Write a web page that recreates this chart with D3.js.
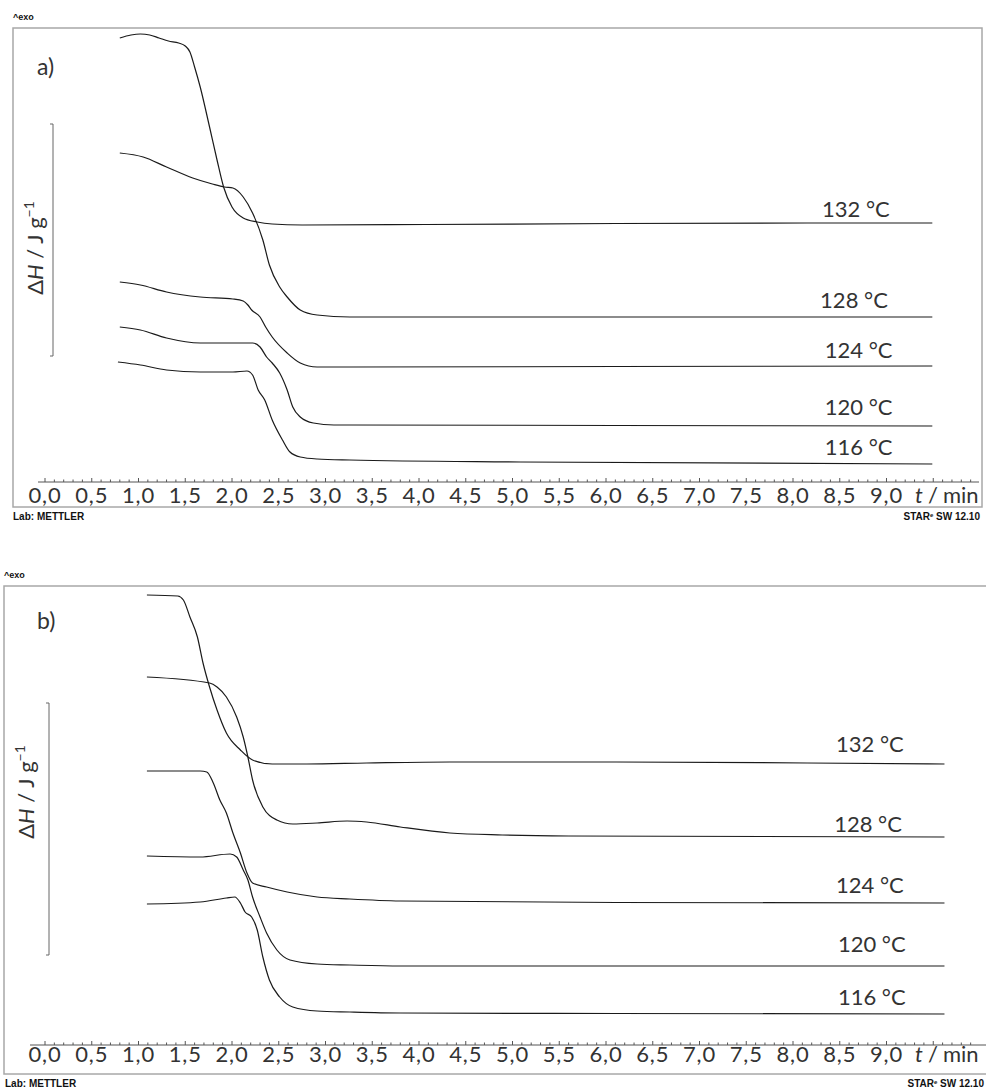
<!DOCTYPE html>
<html><head><meta charset="utf-8">
<script src="https://cdn.jsdelivr.net/npm/d3@7"></script>
<style>body{margin:0;background:#fff;overflow:hidden} svg{display:block}</style>
</head><body><svg id="c" width="986" height="1090"></svg>
<script>
// ---------- DATA ----------
const xTickValues = [0,0.5,1,1.5,2,2.5,3,3.5,4,4.5,5,5.5,6,6.5,7,7.5,8,8.5,9];
const xTickLabels = ["0,0","0,5","1,0","1,5","2,0","2,5","3,0","3,5","4,0","4,5","5,0","5,5","6,0","6,5","7,0","7,5","8,0","8,5","9,0"];
const temperatures = ["132 °C","128 °C","124 °C","120 °C","116 °C"];
const panelNames = ["a)","b)"];

// panel a curves: [t/min, ΔH (arb. units)]
const a132 = [[0.80,44.4],[0.92,44.7],[1.02,44.8],[1.12,44.7],[1.22,44.4],[1.32,44.1],[1.43,43.9],[1.50,43.6],[1.55,43.0],[1.60,41.5],[1.66,39.5],[1.76,35.5],[1.84,32.2],[1.91,29.5],[2.00,27.5],[2.12,26.4],[2.27,26.0],[2.43,25.8],[2.75,25.7],[4.07,25.75],[6.11,25.85],[8.15,25.9],[9.49,25.9]];
const a128 = [[0.80,32.9],[1.05,32.5],[1.30,31.5],[1.58,30.4],[1.79,29.8],[1.92,29.5],[2.01,29.4],[2.12,28.5],[2.22,26.9],[2.33,24.2],[2.40,21.7],[2.51,19.5],[2.59,18.5],[2.73,17.2],[2.91,16.7],[3.26,16.5],[6.11,16.5],[9.49,16.5]];
const a124 = [[0.80,20.0],[1.02,19.7],[1.30,19.0],[1.66,18.5],[2.01,18.3],[2.12,18.1],[2.17,17.7],[2.21,17.2],[2.30,16.5],[2.36,15.5],[2.43,14.5],[2.59,12.9],[2.73,11.9],[2.91,11.5],[3.26,11.5],[6.11,11.55],[9.49,11.6]];
const a120 = [[0.80,15.5],[1.02,15.2],[1.30,14.4],[1.66,13.9],[2.01,13.9],[2.22,13.9],[2.30,13.5],[2.37,12.5],[2.43,11.9],[2.51,10.9],[2.59,9.2],[2.65,7.5],[2.73,6.5],[2.87,5.9],[3.09,5.7],[3.26,5.7],[6.11,5.65],[9.49,5.6]];
const a116 = [[0.78,12.0],[1.02,11.7],[1.30,11.2],[1.66,11.0],[2.01,11.0],[2.16,11.1],[2.22,10.7],[2.28,9.2],[2.35,8.2],[2.43,6.2],[2.54,4.2],[2.62,3.0],[2.73,2.5],[2.91,2.3],[3.26,2.2],[5.09,2.0],[9.49,1.8]];

// panel b curves
const b132 = [[1.09,45.0],[1.42,44.9],[1.48,44.5],[1.55,42.8],[1.63,40.8],[1.69,38.2],[1.76,35.8],[1.84,33.5],[1.94,31.2],[2.09,29.5],[2.22,28.5],[2.43,28.1],[2.80,28.1],[3.44,28.2],[4.33,28.3],[6.11,28.3],[8.15,28.2],[9.62,28.1]];
const b128 = [[1.09,36.8],[1.76,36.2],[1.84,35.8],[1.94,34.8],[2.05,32.8],[2.12,30.8],[2.17,28.8],[2.22,26.5],[2.33,23.8],[2.48,22.5],[2.65,22.1],[2.91,22.2],[3.23,22.4],[3.44,22.3],[3.80,21.8],[4.33,21.2],[4.89,21.0],[5.60,20.9],[9.62,20.8]];
const b124 = [[1.09,27.4],[1.66,27.4],[1.73,27.3],[1.80,26.2],[1.87,24.5],[1.94,23.2],[2.01,21.2],[2.09,19.2],[2.16,17.2],[2.22,16.2],[2.37,15.8],[2.59,15.3],[2.91,14.8],[3.26,14.6],[3.80,14.4],[6.11,14.25],[9.62,14.2]];
const b120 = [[1.09,18.9],[1.66,18.8],[1.98,19.1],[2.05,18.8],[2.12,17.5],[2.17,16.5],[2.22,14.8],[2.30,12.8],[2.37,11.2],[2.48,9.5],[2.62,8.5],[2.91,8.1],[3.26,8.0],[3.80,7.9],[9.62,7.9]];
const b116 = [[1.09,14.1],[1.66,14.3],[1.94,14.7],[2.03,14.8],[2.09,14.2],[2.14,13.3],[2.21,12.8],[2.27,11.5],[2.33,8.8],[2.40,6.5],[2.51,4.8],[2.65,3.8],[2.91,3.4],[3.26,3.3],[3.80,3.2],[6.11,3.15],[9.62,3.1]];

// label anchor positions [t, value]
const labelPosA = [[8.31,26.5],[8.29,17.4],[8.34,12.4],[8.34,6.7],[8.34,2.7]];
const labelPosB = [[8.46,29.3],[8.44,21.3],[8.46,15.2],[8.48,9.3],[8.48,4.0]];

// ---------- DRAW ----------
const svg = d3.select("#c");
const NUM_FONT = "Lato, 'Open Sans', sans-serif";
const SMALL_FONT = "'Liberation Sans', Arial, sans-serif";

const panels = [
  {name: panelNames[0], curves:[a132,a128,a124,a120,a116], labels: labelPosA,
   frame:{x0:13,y0:28,x1:982,y1:507}, axisY:482, axisX0:38, axisX1:979, yTop:28,
   tickBase:503, exoY:20, footY:520, labX:13, starX:980,
   barX:53, bar:[124,356], ylab:{x:43, y:248}, nameY:75},
  {name: panelNames[1], curves:[b132,b128,b124,b120,b116], labels: labelPosB,
   frame:{x0:4,y0:586,x1:996,y1:1074}, axisY:1045, axisX0:30, axisX1:986, yTop:586,
   tickBase:1062, exoY:578, footY:1087, labX:5, starX:984,
   barX:49, bar:[703,955], ylab:{x:34, y:792}, nameY:629}
];

const x = d3.scaleLinear().domain([0, 9]).range([45, 886.5]);

panels.forEach(p => {
  const g = svg.append("g");
  const y = d3.scaleLinear().domain([0, (p.axisY - p.yTop)/10]).range([p.axisY, p.yTop]);

  // frame
  g.append("rect").attr("x", p.frame.x0).attr("y", p.frame.y0)
    .attr("width", p.frame.x1 - p.frame.x0).attr("height", p.frame.y1 - p.frame.y0)
    .attr("fill", "none").attr("stroke", "#a8a8a8").attr("stroke-width", 1.5);

  // ^exo
  g.append("text").attr("x", p.frame.x0).attr("y", p.exoY)
    .attr("font-family", SMALL_FONT).attr("font-weight", "bold").attr("font-size", 9)
    .attr("fill", "#111").text("^exo");

  // footer
  g.append("text").attr("x", p.labX).attr("y", p.footY)
    .attr("font-family", SMALL_FONT).attr("font-weight", "bold").attr("font-size", 10)
    .attr("fill", "#111").text("Lab: METTLER");
  const st = g.append("text").attr("x", p.starX).attr("y", p.footY)
    .attr("text-anchor", "end")
    .attr("font-family", SMALL_FONT).attr("font-weight", "bold").attr("font-size", 10)
    .attr("fill", "#111");
  st.append("tspan").text("STAR");
  st.append("tspan").attr("font-size", 6).attr("dy", -3).text("e");
  st.append("tspan").attr("dy", 3).text(" SW 12.10");

  // x axis line + ticks
  g.append("line").attr("x1", p.axisX0).attr("x2", p.axisX1)
    .attr("y1", p.axisY).attr("y2", p.axisY).attr("stroke", "#555").attr("stroke-width", 1);
  const minor = d3.range(0, 9.95, 0.1).map(v => +v.toFixed(2)).filter(v => x(v) <= p.axisX1);
  g.selectAll(".mt").data(minor).join("line")
    .attr("x1", d => x(d)).attr("x2", d => x(d))
    .attr("y1", p.axisY).attr("y2", d => p.axisY - (Math.abs(d*2 - Math.round(d*2)) < 1e-6 ? 4 : 2.5))
    .attr("stroke", "#555").attr("stroke-width", 1);
  g.selectAll(".tl").data(xTickValues).join("text")
    .attr("x", d => x(d)).attr("y", p.tickBase).attr("text-anchor", "middle")
    .attr("font-family", NUM_FONT).attr("font-size", 22).attr("letter-spacing", 0.8)
    .attr("fill", "#333")
    .text((d,i) => xTickLabels[i]);
  const tl = g.append("text").attr("y", p.tickBase)
    .attr("font-family", NUM_FONT).attr("font-size", 22).attr("fill", "#333");
  tl.append("tspan").attr("x", 915).attr("font-style", "italic").text("t");
  tl.append("tspan").attr("x", 928).text("/");
  tl.append("tspan").attr("x", 943).text("min");

  // panel name
  g.append("text").attr("x", 37).attr("y", p.nameY)
    .attr("font-family", NUM_FONT).attr("font-size", 23).attr("fill", "#333").text(p.name);

  // scale bar
  g.append("path")
    .attr("d", `M${p.barX-3},${p.bar[0]}H${p.barX}V${p.bar[1]}H${p.barX-3}`)
    .attr("fill", "none").attr("stroke", "#666").attr("stroke-width", 1);

  // y label
  const yl = g.append("text")
    .attr("transform", `translate(${p.ylab.x},${p.ylab.y}) rotate(-90)`)
    .attr("text-anchor", "middle")
    .attr("font-family", NUM_FONT).attr("font-size", 22).attr("fill", "#333");
  yl.append("tspan").text("Δ");
  yl.append("tspan").attr("font-style", "italic").text("H");
  yl.append("tspan").text(" / J g");
  yl.append("tspan").attr("font-size", 14).attr("dy", -9).text("−1");

  // curves
  const line = d3.line().x(d => x(d[0])).y(d => y(d[1])).curve(d3.curveMonotoneX);
  g.selectAll(".curve").data(p.curves).join("path")
    .attr("d", line).attr("fill", "none").attr("stroke", "#1a1a1a").attr("stroke-width", 1.2);

  // curve labels
  g.selectAll(".cl").data(p.labels).join("text")
    .attr("x", d => x(d[0])).attr("y", d => y(d[1]))
    .attr("font-family", NUM_FONT).attr("font-size", 22).attr("fill", "#333")
    .text((d,i) => temperatures[i]);
});
</script>
</body></html>
